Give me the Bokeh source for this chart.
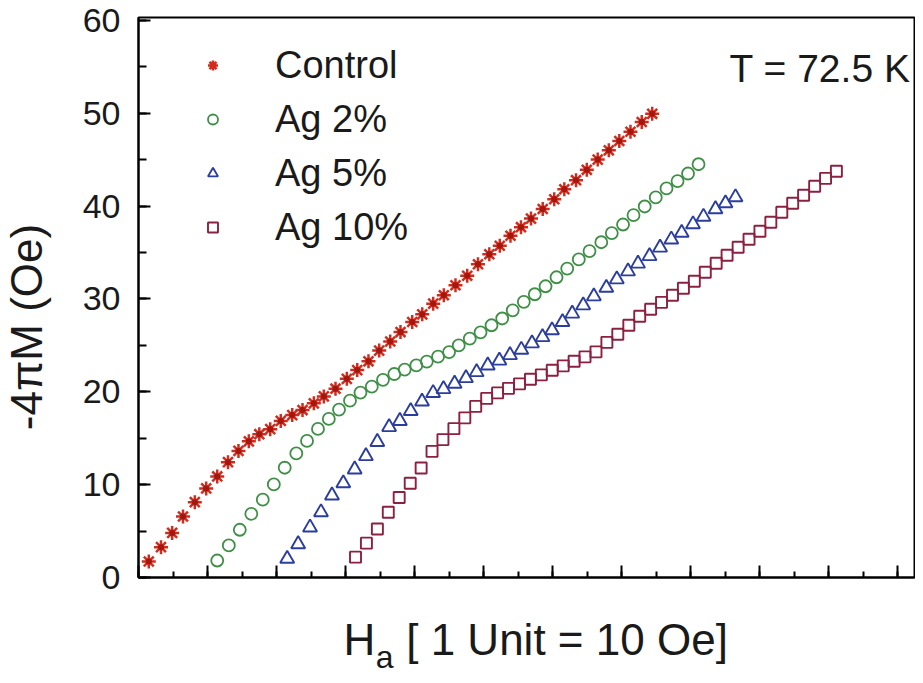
from math import pi
from bokeh.plotting import figure
from bokeh.layouts import column, row
from bokeh.models import (Range1d, SingleIntervalTicker, Label, Legend, LegendItem,
                          CustomJSTickFormatter)
from bokeh.core.properties import value
from bokeh.embed import file_html
from bokeh.resources import INLINE

# ---- data (H_a in axis units, -4piM in Oe) ----
ctrl_x = [1.49, 3.26, 4.88, 6.45, 8.16, 9.81, 11.41, 12.97, 14.49, 15.99, 17.51, 19.09,
          20.62, 22.28, 23.77, 25.41, 26.86, 28.55, 30.19, 31.70, 33.33, 34.88, 36.48,
          37.97, 39.67, 41.12, 42.71, 44.25, 45.94, 47.64, 49.20, 50.84, 52.36, 53.91,
          55.43, 56.88, 58.58, 60.25, 61.71, 63.41, 64.97, 66.55, 68.16, 69.68, 71.30,
          72.93, 74.45]
ctrl_y = [1.72, 3.27, 4.80, 6.57, 8.11, 9.59, 10.88, 12.42, 13.63, 14.66, 15.43, 15.97,
          16.86, 17.49, 18.03, 18.75, 19.50, 20.33, 21.39, 22.33, 23.28, 24.43, 25.41,
          26.43, 27.51, 28.34, 29.49, 30.39, 31.47, 32.49, 33.73, 34.81, 35.72, 36.80,
          37.72, 38.65, 39.68, 40.73, 41.81, 42.78, 43.90, 45.00, 46.00, 47.00, 48.00,
          49.05, 49.93]

ag2_x = [11.41, 13.09, 14.68, 16.35, 18.01, 19.61, 21.19, 22.87, 24.42, 26.01, 27.58,
         29.06, 30.65, 32.17, 33.81, 35.43, 37.07, 38.58, 40.26, 41.78, 43.41, 45.01,
         46.41, 48.01, 49.57, 51.16, 52.71, 54.23, 55.84, 57.43, 58.99, 60.58, 62.13,
         63.81, 65.36, 67.07, 68.59, 70.22, 71.74, 73.36, 74.96, 76.52, 78.12, 79.64,
         81.16]
ag2_y = [1.83, 3.45, 5.14, 6.86, 8.38, 10.02, 11.82, 13.36, 14.71, 16.00, 17.07, 18.08,
         19.04, 19.91, 20.55, 21.28, 21.91, 22.39, 22.84, 23.25, 23.78, 24.27, 24.99,
         25.72, 26.40, 27.16, 27.89, 28.77, 29.68, 30.50, 31.36, 32.33, 33.26, 34.25,
         35.15, 36.10, 37.09, 38.01, 39.01, 39.95, 40.93, 41.90, 42.69, 43.50, 44.50]

ag5_x = [21.55, 23.14, 24.86, 26.45, 28.04, 29.68, 31.33, 32.96, 34.61, 36.32, 37.88,
         39.45, 41.09, 42.70, 44.20, 45.81, 47.46, 49.00, 50.62, 52.30, 53.84, 55.48,
         57.03, 58.55, 59.93, 61.45, 62.86, 64.45, 65.99, 67.80, 69.32, 70.94, 72.39,
         74.06, 75.59, 77.22, 78.72, 80.36, 81.88, 83.62, 85.07, 86.52]
ag5_y = [2.02, 3.59, 5.39, 7.03, 8.84, 10.15, 11.64, 13.07, 14.60, 16.20, 16.86, 17.93,
         18.95, 19.87, 20.29, 20.87, 21.47, 22.12, 22.84, 23.36, 23.95, 24.53, 25.22,
         25.89, 26.62, 27.51, 28.42, 29.31, 30.28, 31.20, 32.11, 32.97, 33.80, 34.61,
         35.53, 36.40, 37.12, 38.04, 38.85, 39.66, 40.30, 40.95]

ag10_x = [31.45, 33.03, 34.62, 36.20, 37.78, 39.38, 40.96, 42.54, 44.12, 45.71, 47.29,
          48.87, 50.46, 52.04, 53.62, 55.22, 56.80, 58.38, 59.96, 61.55, 63.13, 64.71,
          66.30, 67.88, 69.46, 71.06, 72.64, 74.22, 75.80, 77.39, 78.97, 80.55, 82.14,
          83.72, 85.30, 86.90, 88.48, 90.06, 91.64, 93.23, 94.81, 96.39, 97.99, 99.57,
          101.14]
ag10_y = [2.19, 3.70, 5.22, 7.03, 8.62, 10.15, 11.79, 13.58, 14.85, 16.03, 17.19, 18.43,
          19.29, 19.88, 20.37, 20.85, 21.34, 21.82, 22.31, 22.79, 23.28, 23.76, 24.30,
          25.32, 26.19, 27.16, 28.13, 28.88, 29.63, 30.39, 31.14, 31.90, 32.87, 33.84,
          34.70, 35.56, 36.42, 37.28, 38.25, 39.33, 40.30, 41.16, 42.13, 42.98, 43.75]

series_labels = ["Control", "Ag 2%", "Ag 5%", "Ag 10%"]
y_label = "-4πM (Oe)"
x_label_main = "H"
x_label_sub = "a"
x_label_rest = "[ 1 Unit = 10 Oe]"
temp_label = "T = 72.5 K"

FONT = "Liberation Sans"
INK = "#1a1a1a"

STRIP_W = 60          # left strip holding the y-axis title
MAIN_W = 915 - STRIP_W
MAIN_H = 599
TOTAL_H = 675
BOTTOM_H = TOTAL_H - MAIN_H
X_END = 112.46


def blank_strip(w, h, x_range):
    f = figure(width=w, height=h, output_backend="svg", toolbar_location=None,
               x_range=x_range, y_range=Range1d(0, h),
               x_axis_type=None, y_axis_type=None, min_border=0)
    f.outline_line_color = None
    f.background_fill_color = "white"
    f.border_fill_color = "white"
    f.xgrid.visible = False
    f.ygrid.visible = False
    return f


# ---- main plot ----
p = figure(width=MAIN_W, height=MAIN_H, output_backend="svg", toolbar_location=None,
           x_range=Range1d(0, X_END), y_range=Range1d(0, 60.3),
           min_border_left=138 - STRIP_W, min_border_right=1, min_border_top=17,
           min_border_bottom=MAIN_H - 577)
p.background_fill_color = "white"
p.border_fill_color = "white"
p.outline_line_color = "black"
p.outline_line_width = 2
p.xgrid.visible = False
p.ygrid.visible = False

p.xaxis.ticker = SingleIntervalTicker(interval=10, num_minor_ticks=2)
p.yaxis.ticker = SingleIntervalTicker(interval=10, num_minor_ticks=2)
for ax in (p.xaxis, p.yaxis):
    ax.axis_line_width = 2
    ax.axis_line_color = "black"
    ax.major_tick_line_width = 2
    ax.minor_tick_line_width = 2
    ax.major_tick_line_color = "black"
    ax.minor_tick_line_color = "black"
    ax.major_tick_out = 0
    ax.minor_tick_out = 0
p.xaxis.major_tick_in = 12
p.xaxis.minor_tick_in = 6
p.yaxis.major_tick_in = 12
p.yaxis.minor_tick_in = 8
p.xaxis.formatter = CustomJSTickFormatter(code="return ''")
p.xaxis.major_label_text_font_size = "1px"
p.xaxis.major_label_standoff = 0
p.yaxis.major_label_text_font = FONT
p.yaxis.major_label_text_font_size = "34px"
p.yaxis.major_label_text_color = INK
p.yaxis.major_label_standoff = 18

r_c = p.scatter(ctrl_x, ctrl_y, marker="asterisk", size=14, line_color="#d12d1f",
                line_width=2.5)
p.scatter(ctrl_x, ctrl_y, marker="circle", size=6, fill_color="#a3170f",
          line_color=None)
r_2 = p.scatter(ag2_x, ag2_y, marker="circle", size=12, fill_color=None,
                line_color="#3f8f47", line_width=1.8)
r_5 = p.scatter(ag5_x, ag5_y, marker="triangle", size=14, fill_color=None,
                line_color="#2b3d9e", line_width=1.9)
r_10 = p.scatter(ag10_x, ag10_y, marker="square", size=11, fill_color=None,
                 line_color="#8c2040", line_width=1.9)

legend = Legend(items=[LegendItem(label=lab, renderers=[r])
                       for lab, r in zip(series_labels, [r_c, r_2, r_5, r_10])],
                location=(62, 323), orientation="vertical", padding=0, margin=0,
                spacing=0, glyph_width=25, glyph_height=54, label_height=54,
                label_standoff=50, label_text_font=FONT, label_text_font_size="38px",
                label_text_color=INK, border_line_color=None,
                background_fill_alpha=0)
p.add_layout(legend)

p.add_layout(Label(x=111.9, y=54.85, text=temp_label, text_align="right",
                   text_baseline="middle", text_font=FONT,
                   text_font_size="39px", text_color=INK))

# ---- y-axis title strip (pixel coordinates from bottom-left) ----
ys = blank_strip(STRIP_W, TOTAL_H, Range1d(0, STRIP_W))
ys.text(x=[26], y=[TOTAL_H - 326.5], text=[y_label], angle=pi / 2,
        text_align="center", text_baseline="middle", text_font=value(FONT),
        text_font_size=value("44px"), text_color=INK)

# ---- x-axis title strip: frame aligns with the main frame, so share its x units ----
xs = blank_strip(MAIN_W, BOTTOM_H, Range1d(0, X_END))
xs.text(x=[29.7], y=[TOTAL_H - 639], text=[x_label_main],
        text_font=value(FONT), text_font_size=value("44px"), text_color=INK,
        text_baseline="middle")
xs.text(x=[34.4], y=[TOTAL_H - 656], text=[x_label_sub],
        text_font=value(FONT), text_font_size=value("32px"), text_color=INK,
        text_baseline="middle")
xs.text(x=[38.8], y=[TOTAL_H - 639], text=[x_label_rest],
        text_font=value(FONT), text_font_size=value("44px"), text_color=INK,
        text_baseline="middle")

layout = row(ys, column(p, xs, spacing=0), spacing=0)
open("out.html", "w").write(file_html(layout, INLINE))
